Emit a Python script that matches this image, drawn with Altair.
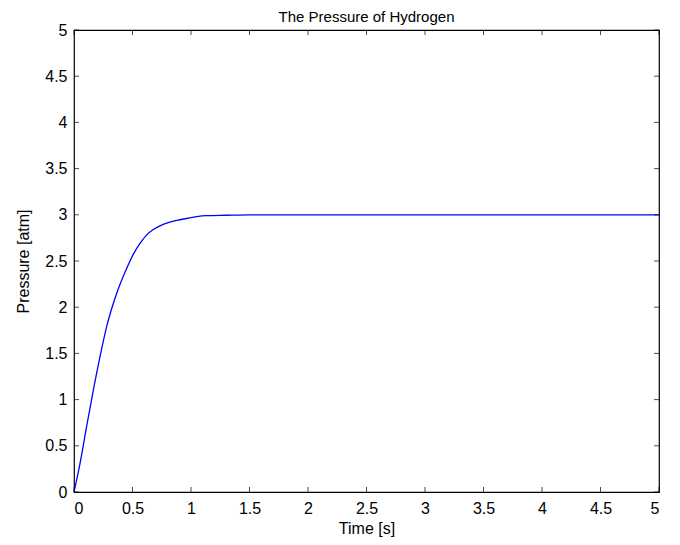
import altair as alt
import pandas as pd

# Data
time_s = [0.0, 0.05, 0.108, 0.165, 0.228, 0.279, 0.336, 0.379, 0.45, 0.51, 0.564,
          0.62, 0.678, 0.735, 0.792, 0.88, 0.963, 1.05, 1.13, 1.3, 1.5, 2.0, 2.5,
          3.0, 3.5, 4.0, 4.5, 5.0]
pressure_atm = [0.0, 0.3, 0.71, 1.10, 1.50, 1.79, 2.04, 2.20, 2.42, 2.58, 2.69,
                2.78, 2.84, 2.88, 2.91, 2.94, 2.96, 2.98, 2.99, 2.995, 3.0, 3.0, 3.0,
                3.0, 3.0, 3.0, 3.0, 3.0]
x_ticks = [0, 0.5, 1, 1.5, 2, 2.5, 3, 3.5, 4, 4.5, 5]
y_ticks = [0, 0.5, 1, 1.5, 2, 2.5, 3, 3.5, 4, 4.5, 5]

W, H = 585, 462
FONT = "Liberation Sans, Arial, sans-serif"
TICK = 5

df = pd.DataFrame({"t": time_s, "p": pressure_atm})
xt = pd.DataFrame({"v": x_ticks})
yt = pd.DataFrame({"v": y_ticks})

xscale = alt.Scale(domain=[0, 5], nice=False, zero=False)
yscale = alt.Scale(domain=[0, 5], nice=False, zero=False)

line = alt.Chart(df).mark_line(color="#0000ff", strokeWidth=1.3, interpolate="monotone").encode(
    x=alt.X("t:Q", scale=xscale, title="Time [s]",
            axis=alt.Axis(values=x_ticks, format="~g", ticks=False, grid=False,
                          labelPadding=8, titlePadding=4, domain=False)),
    y=alt.Y("p:Q", scale=yscale, title="Pressure [atm]",
            axis=alt.Axis(values=y_ticks, format="~g", ticks=False, grid=False,
                          labelPadding=7, titlePadding=13, domain=False)),
)

bottom = alt.Chart(xt).mark_tick(orient="vertical", size=TICK, thickness=1, color="black").encode(
    x=alt.X("v:Q", scale=xscale), y=alt.value(H - TICK / 2))
top = alt.Chart(xt).mark_tick(orient="vertical", size=TICK, thickness=1, color="black").encode(
    x=alt.X("v:Q", scale=xscale), y=alt.value(TICK / 2))
left = alt.Chart(yt).mark_tick(orient="horizontal", size=TICK, thickness=1, color="black").encode(
    y=alt.Y("v:Q", scale=yscale), x=alt.value(TICK / 2))
right = alt.Chart(yt).mark_tick(orient="horizontal", size=TICK, thickness=1, color="black").encode(
    y=alt.Y("v:Q", scale=yscale), x=alt.value(W - TICK / 2))

chart = alt.layer(line, bottom, top, left, right).properties(
    width=W, height=H,
    title=alt.TitleParams("The Pressure of Hydrogen", fontSize=15, fontWeight="normal",
                          font=FONT, color="black", offset=-3, anchor="middle"),
    autosize=alt.AutoSizeParams(type="none"),
    padding={"left": 66, "top": 22, "right": 13, "bottom": 45},
    background="white",
).configure_view(
    stroke="black", strokeWidth=1.2
).configure_axis(
    labelFont=FONT, titleFont=FONT, labelFontSize=16, titleFontSize=16,
    labelColor="black", titleColor="black", titleFontWeight="normal",
)

chart.save("out.html", embed_options={"renderer": "svg", "actions": False})
